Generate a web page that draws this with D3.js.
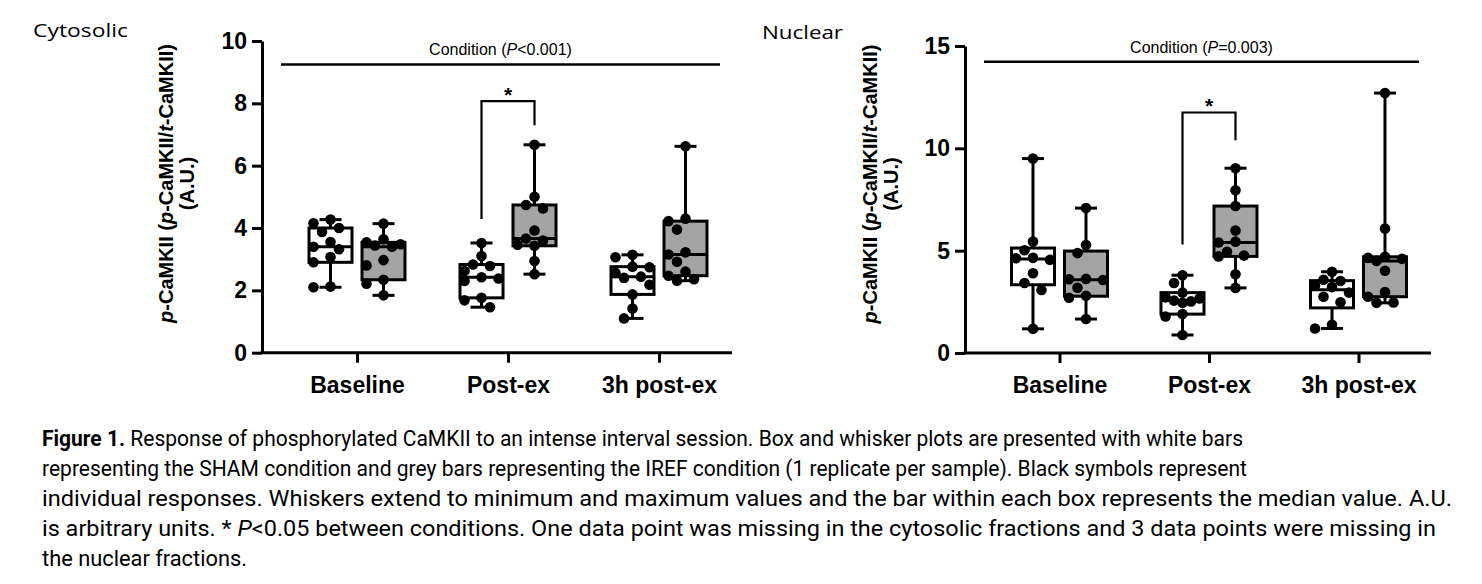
<!DOCTYPE html>
<html><head><meta charset="utf-8">
<script src="https://cdn.jsdelivr.net/npm/d3@7"></script>
<style>body{margin:0;background:#fff;} svg{display:block;}</style>
</head><body>
<svg id="chart" width="1482" height="584"></svg>
<script>
// ---------------- data ----------------
const categories = ["Baseline", "Post-ex", "3h post-ex"];
const groups = ["SHAM", "IREF"];

// Cytosolic fraction (one array per category)
const cytoSham = [
  [4.27, 4.15, 4.00, 3.87, 3.55, 3.40, 3.32, 3.07, 2.90, 2.12, 2.10],
  [3.52, 3.10, 2.83, 2.78, 2.62, 2.42, 2.38, 2.30, 1.76, 1.68, 1.46],
  [3.14, 3.06, 2.76, 2.74, 2.56, 2.44, 2.40, 2.18, 1.87, 1.42, 1.10]
];
const cytoIref = [
  [4.14, 3.64, 3.54, 3.48, 3.44, 3.40, 2.97, 2.80, 2.34, 2.21, 1.84],
  [6.67, 5.00, 4.74, 4.63, 3.92, 3.66, 3.60, 3.46, 3.43, 2.94, 2.52],
  [6.62, 4.30, 4.22, 3.95, 3.22, 3.15, 2.92, 2.60, 2.47, 2.36, 2.31]
];
// Nuclear fraction
const nucSham = [
  [9.50, 5.45, 5.02, 4.65, 4.63, 4.55, 3.90, 3.42, 3.08, 1.18],
  [3.80, 3.42, 2.95, 2.72, 2.66, 2.56, 2.52, 2.45, 1.90, 1.78, 0.88],
  [3.97, 3.58, 3.52, 3.30, 3.22, 2.95, 2.75, 2.48, 1.38, 1.20]
];
const nucIref = [
  [7.08, 5.28, 4.88, 3.62, 3.60, 3.57, 3.19, 2.80, 2.70, 1.66],
  [9.03, 7.95, 7.18, 5.98, 5.44, 5.40, 4.95, 4.76, 4.72, 3.85, 3.18],
  [12.70, 6.08, 4.70, 4.65, 4.60, 4.50, 4.02, 2.98, 2.75, 2.47, 2.45]
];

const cytoTicks = [0, 2, 4, 6, 8, 10];
const nucTicks = [0, 5, 10, 15];
const cytoDomain = [0, 10];
const nucDomain = [0, 15];
const panelTitles = ["Cytosolic", "Nuclear"];
const conditionText = [["Condition (", "P", "<0.001)"], ["Condition (", "P", "=0.003)"]];
const conditionLevel = [9.25, 14.23];
// significance bracket: category, top level, left-leg end, right-leg end (data units)
const cytoBracket = ["Post-ex", 8.07, 4.29, 7.30];
const nucBracket = ["Post-ex", 11.75, 5.30, 10.40];

const captionLines = [
  [["Figure 1.", "b"], [" Response of phosphorylated CaMKII to an intense interval session. Box and whisker plots are presented with white bars", ""]],
  [["representing the SHAM condition and grey bars representing the IREF condition (1 replicate per sample). Black symbols represent", ""]],
  [["individual responses. Whiskers extend to minimum and maximum values and the bar within each box represents the median value. A.U.", ""]],
  [["is arbitrary units. * ", ""], ["P", "i"], ["<0.05 between conditions. One data point was missing in the cytosolic fractions and 3 data points were missing in", ""]],
  [["the nuclear fractions.", ""]]
];

// ---------------- layout ----------------
const panels = [
  {sham: cytoSham, iref: cytoIref, ticks: cytoTicks, domain: cytoDomain, title: panelTitles[0],
   cond: conditionText[0], condLevel: conditionLevel[0], bracket: cytoBracket,
   x0: 262, x1: 732, yBottom: 352.7, yTop: 41, cat0: 357, cat1: 659,
   titleX: 33, titleY: 37, titleW: 95, yTitleX: 166, yTitleY: 183.5},
  {sham: nucSham, iref: nucIref, ticks: nucTicks, domain: nucDomain, title: panelTitles[1],
   cond: conditionText[1], condLevel: conditionLevel[1], bracket: nucBracket,
   x0: 965, x1: 1431, yBottom: 353, yTop: 46, cat0: 1059.5, cat1: 1358.5,
   titleX: 762, titleY: 39, titleW: 81, yTitleX: 870, yTitleY: 184}
];

const svg = d3.select("#chart");
const AX = "'Liberation Sans', Arial, Helvetica, sans-serif";

function quart(sorted, p) {
  const n = sorted.length;
  let pos = p * (n + 1);
  if (pos < 1) pos = 1; if (pos > n) pos = n;
  const lo = Math.floor(pos), hi = Math.ceil(pos);
  return sorted[lo - 1] + (pos - lo) * (sorted[hi - 1] - sorted[lo - 1]);
}

// simple capped beeswarm: columns at 0, ±step, ±2*step
function swarm(values, y, diam, step) {
  const order = values.map((v, i) => i).sort((a, b) => values[b] - values[a]);
  const cands = [0, -1, 1, -2, 2].map(k => k * step);
  const placed = [], offs = new Array(values.length).fill(0);
  for (const i of order) {
    const py = y(values[i]);
    let best = null, bestD = -1;
    for (const c of cands) {
      const md = placed.length ? d3.min(placed, p => Math.hypot(p.x - c, p.y - py)) : Infinity;
      if (md >= diam) { best = c; break; }
      if (md > bestD) { bestD = md; best = c; }
    }
    offs[i] = best; placed.push({x: best, y: py});
  }
  return offs;
}

panels.forEach(P => {
  const g = svg.append("g");
  const y = d3.scaleLinear().domain(P.domain).range([P.yBottom, P.yTop]);
  const x = d3.scalePoint().domain(categories).range([P.cat0, P.cat1]);
  const gx = d3.scalePoint().domain(groups).range([-26.5, 26.5]);
  const boxW = 43, capW = 22;

  // y axis
  const yAxis = d3.axisLeft(y).tickValues(P.ticks).tickSize(10).tickSizeOuter(0).tickPadding(5);
  const ya = g.append("g").attr("transform", `translate(${P.x0},0)`).call(yAxis);
  ya.select(".domain").attr("stroke-width", 3).attr("stroke", "#000");
  ya.selectAll(".tick line").attr("stroke-width", 3).attr("stroke", "#000");
  ya.selectAll(".tick text").attr("font-family", AX).attr("font-weight", "bold")
    .attr("font-size", 23).attr("fill", "#000");

  // x axis
  g.append("line").attr("x1", P.x0 - 1.5).attr("x2", P.x1).attr("y1", P.yBottom).attr("y2", P.yBottom)
    .attr("stroke", "#000").attr("stroke-width", 3);
  const xAxis = d3.axisBottom(x).tickSize(10).tickSizeOuter(0).tickPadding(8);
  const xa = g.append("g").attr("transform", `translate(0,${P.yBottom})`).call(xAxis);
  xa.select(".domain").remove();
  xa.selectAll(".tick line").attr("stroke-width", 3).attr("stroke", "#000");
  xa.selectAll(".tick text").attr("font-family", AX).attr("font-weight", "bold")
    .attr("font-size", 23).attr("fill", "#000").attr("dy", "0.95em");

  // boxes
  const series = [P.sham, P.iref];
  series.forEach((ser, gi) => {
    ser.forEach((vals, ci) => {
      const cx = x(categories[ci]) + gx(groups[gi]);
      const s = vals.slice().sort(d3.ascending);
      const q1 = quart(s, 0.25), med = quart(s, 0.5), q3 = quart(s, 0.75);
      const mn = s[0], mx = s[s.length - 1];
      const bg = g.append("g");
      bg.append("line").attr("x1", cx).attr("x2", cx).attr("y1", y(mx)).attr("y2", y(mn))
        .attr("stroke", "#000").attr("stroke-width", 3);
      [mn, mx].forEach(v => bg.append("line").attr("x1", cx - capW / 2).attr("x2", cx + capW / 2)
        .attr("y1", y(v)).attr("y2", y(v)).attr("stroke", "#000").attr("stroke-width", 3));
      bg.append("rect").attr("x", cx - boxW / 2).attr("width", boxW)
        .attr("y", y(q3)).attr("height", y(q1) - y(q3))
        .attr("fill", gi === 0 ? "#ffffff" : "#a4a4a4").attr("stroke", "#000").attr("stroke-width", 3);
      bg.append("line").attr("x1", cx - boxW / 2).attr("x2", cx + boxW / 2)
        .attr("y1", y(med)).attr("y2", y(med)).attr("stroke", "#000").attr("stroke-width", 3);
      const offs = swarm(vals, y, 11, 8.5);
      bg.selectAll("circle").data(vals).join("circle")
        .attr("cx", (d, i) => cx + offs[i]).attr("cy", d => y(d)).attr("r", 5.3).attr("fill", "#000");
    });
  });

  // condition line
  const cy = y(P.condLevel);
  g.append("line").attr("x1", P.x0 + 19).attr("x2", P.x1 - 12).attr("y1", cy).attr("y2", cy)
    .attr("stroke", "#000").attr("stroke-width", 2.5);
  const ct = g.append("text").attr("x", (P.x0 + 19 + P.x1 - 12) / 2).attr("y", cy - 9)
    .attr("text-anchor", "middle").attr("font-family", AX).attr("font-size", 16).attr("fill", "#000");
  ct.append("tspan").text(P.cond[0]);
  ct.append("tspan").attr("font-style", "italic").text(P.cond[1]);
  ct.append("tspan").text(P.cond[2]);

  // significance bracket
  const bx = x(P.bracket[0]);
  const lx = bx + gx(groups[0]), rx = bx + gx(groups[1]);
  const top = y(P.bracket[1]);
  g.append("path").attr("d", `M${lx},${y(P.bracket[2])}V${top}H${rx}V${y(P.bracket[3])}`)
    .attr("fill", "none").attr("stroke", "#000").attr("stroke-width", 2.2);
  g.append("text").attr("x", (lx + rx) / 2).attr("y", top + 0.5).attr("text-anchor", "middle")
    .attr("font-family", AX).attr("font-weight", "bold").attr("font-size", 21).text("*");

  // y title
  const yt = g.append("g").attr("transform", `translate(${P.yTitleX},${P.yTitleY}) rotate(-90)`);
  const t1 = yt.append("text").attr("text-anchor", "middle").attr("dominant-baseline", "central")
    .attr("font-family", AX).attr("font-weight", "bold").attr("font-size", 20).attr("fill", "#000");
  [["p", 1], ["-CaMKII (", 0], ["p", 1], ["-CaMKII/", 0], ["t", 1], ["-CaMKII)", 0]].forEach(([t, it]) =>
    t1.append("tspan").attr("font-style", it ? "italic" : "normal").text(t));
  yt.append("text").attr("y", 21).attr("text-anchor", "middle").attr("dominant-baseline", "central")
    .attr("font-family", AX).attr("font-weight", "bold").attr("font-size", 20).text("(A.U.)");

  // panel title
  svg.append("text").attr("x", P.titleX).attr("y", P.titleY).attr("font-family", "'Open Sans', 'Noto Sans', sans-serif")
    .attr("font-size", 19).attr("textLength", P.titleW).attr("lengthAdjust", "spacingAndGlyphs").text(P.title);
});

// caption
const capWidths = [1201, 1205, 1410, 1394, 205];
captionLines.forEach((line, li) => {
  const t = svg.append("text").attr("x", 42).attr("y", 446 + li * 30)
    .attr("font-family", "'Liberation Sans Narrow', 'Roboto', 'Liberation Sans', sans-serif")
    .attr("font-size", 22).attr("fill", "#000")
    .attr("textLength", capWidths[li]).attr("lengthAdjust", "spacingAndGlyphs");
  line.forEach(([txt, st]) => {
    const s = t.append("tspan").text(txt);
    if (st === "b") s.attr("font-weight", "bold");
    if (st === "i") s.attr("font-style", "italic");
  });
});
</script>
</body></html>
